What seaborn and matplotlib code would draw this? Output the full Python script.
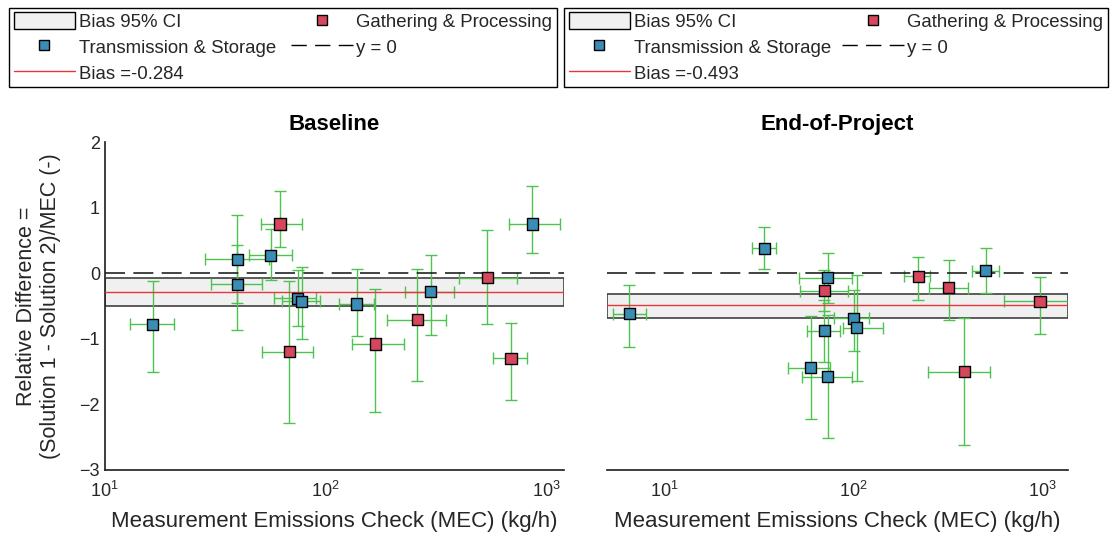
import numpy as np
import pandas as pd
import matplotlib
matplotlib.use("Agg")
import matplotlib.pyplot as plt
from matplotlib.lines import Line2D
from matplotlib.patches import Patch
from matplotlib.ticker import LogLocator, LogFormatterMathtext, NullLocator
import seaborn as sns

# ---------------- data ----------------
categories = ["Transmission & Storage", "Gathering & Processing"]

# Baseline panel
base_type = ["T", "T", "T", "G", "T", "T", "T", "T", "G", "G", "T", "G", "G", "T", "G"]
base_x = [16.5, 39.8, 39.8, 62.1, 56.4, 74.5, 77.8, 138, 167.5, 259, 298.5, 538, 689, 861, 68.4]
base_y = [-0.78, 0.21, -0.17, 0.75, 0.27, -0.38, -0.43, -0.47, -1.08, -0.71, -0.285, -0.07, -1.30, 0.75, -1.20]
base_ylo = [-1.50, -0.45, -0.87, 0.40, -0.11, -0.81, -1.00, -0.96, -2.11, -1.65, -0.94, -0.77, -1.93, 0.30, -2.28]
base_yhi = [-0.12, 0.88, 0.43, 1.26, 0.68, 0.05, 0.10, 0.07, -0.24, 0.07, 0.27, 0.66, -0.76, 1.33, -0.12]
base_xlo = [13.0, 28.4, 30.3, 50.8, 45.0, 58.4, 63.2, 114.5, 132, 189, 229, 401, 570, 677, 51.3]
base_xhi = [20.6, 55.6, 51.6, 77.8, 70.6, 90.4, 94.2, 164.5, 227, 349, 379, 731, 813, 1148, 87.3]
base_bias = -0.284
base_ci = [-0.50, -0.07]

# End-of-Project panel
eop_type = ["T", "T", "T", "G", "T", "T", "T", "T", "T", "G", "G", "T", "G", "G"]
eop_x = [6.53, 33.7, 72.9, 70, 100, 104, 70, 59.3, 72.9, 220, 319, 499, 966, 385]
eop_y = [-0.62, 0.38, -0.07, -0.27, -0.69, -0.83, -0.88, -1.44, -1.58, -0.05, -0.22, 0.04, -0.43, -1.50]
eop_ylo = [-1.12, 0.06, -0.45, -0.57, -1.18, -1.65, -1.35, -2.22, -2.52, -0.41, -0.72, -0.31, -0.92, -2.62]
eop_yhi = [-0.18, 0.71, 0.31, 0.05, -0.25, -0.03, -0.41, -0.66, -0.64, 0.25, 0.20, 0.38, -0.06, -0.69]
eop_xlo = [5.35, 29.0, 51.5, 52.1, 78.7, 87.9, 56.5, 44.9, 53.2, 185, 251, 424, 625, 246]
eop_xhi = [7.98, 38.9, 97.8, 93.8, 120.5, 143, 84.7, 75.0, 98.4, 253, 401, 586, 1400, 525]
eop_bias = -0.493
eop_ci = [-0.69, -0.32]

titles = ["Baseline", "End-of-Project"]
xlabel = "Measurement Emissions Check (MEC) (kg/h)"
ylabel = "Relative Difference =\n(Solution 1 - Solution 2)/MEC (-)"
yticks = [-3, -2, -1, 0, 1, 2]

# ---------------- style ----------------
sns.set_theme(style="white")
plt.rcParams["font.family"] = ["Liberation Sans", "DejaVu Sans"]
plt.rcParams["mathtext.default"] = "regular"
plt.rcParams["xtick.direction"] = "in"
plt.rcParams["ytick.direction"] = "in"

blue = "#3b8db5"
red = "#d6475e"
green = "#4ec24e"
txt = "#262626"
palette = {"Transmission & Storage": blue, "Gathering & Processing": red}
tmap = {"T": "Transmission & Storage", "G": "Gathering & Processing"}

fig = plt.figure(figsize=(11.12, 5.42), dpi=100)
ax1 = fig.add_axes([0.0942, 0.133, 0.4134, 0.605])
ax2 = fig.add_axes([0.5456, 0.133, 0.4150, 0.605])

panels = [
    (ax1, base_type, base_x, base_y, base_ylo, base_yhi, base_xlo, base_xhi, base_bias, base_ci, (10, 1202)),
    (ax2, eop_type, eop_x, eop_y, eop_ylo, eop_yhi, eop_xlo, eop_xhi, eop_bias, eop_ci, (4.97, 1361)),
]

for i, (ax, typ, x, y, ylo, yhi, xlo, xhi, bias, ci, xlim) in enumerate(panels):
    df = pd.DataFrame({"x": x, "y": y, "ylo": ylo, "yhi": yhi, "xlo": xlo, "xhi": xhi,
                       "cat": [tmap[t] for t in typ]})
    ax.set_xscale("log")
    ax.axhspan(ci[0], ci[1], facecolor="#f0f0f0", edgecolor="#404040", lw=1.2, zorder=1)
    ax.errorbar(df["x"], df["y"],
                yerr=[df["y"] - df["ylo"], df["yhi"] - df["y"]],
                xerr=[df["x"] - df["xlo"], df["xhi"] - df["x"]],
                fmt="none", ecolor=green, elinewidth=1.0, capsize=4, capthick=1.0, zorder=2)
    ax.axhline(0, color="#222222", ls=(0, (12, 5)), lw=1.2, zorder=3)
    ax.axhline(bias, color="#e8363c", lw=1.0, zorder=3)
    sns.scatterplot(data=df, x="x", y="y", hue="cat", palette=palette, marker="s", s=64,
                    edgecolor="black", linewidth=1.0, legend=False, ax=ax, zorder=4)
    ax.set_xlim(*xlim)
    ax.set_ylim(-3, 2)
    ax.xaxis.set_major_locator(LogLocator(base=10, numticks=10))
    ax.xaxis.set_major_formatter(LogFormatterMathtext())
    ax.xaxis.set_minor_locator(NullLocator())
    ax.set_title(titles[i], fontsize=16, fontweight="bold", pad=9, color="black")
    ax.set_xlabel(xlabel, fontsize=16, color=txt, labelpad=7)
    ax.tick_params(axis="both", labelsize=13, colors=txt, length=3, width=0.8)
    ax.tick_params(axis="x", pad=8)
    for s in ["top", "right"]:
        ax.spines[s].set_visible(False)
    ax.spines["bottom"].set_color(txt)
    ax.spines["left"].set_color(txt)
    if i == 0:
        ax.set_yticks(yticks)
        ax.set_ylabel(ylabel, fontsize=15.5, color=txt, labelpad=13)
    else:
        ax.set_ylabel("")
        ax.set_yticks([])
        ax.spines["left"].set_visible(False)

    handles = [
        Patch(facecolor="#f0f0f0", edgecolor="black", lw=1.0, label="Bias 95% CI"),
        Line2D([], [], ls="none", marker="s", ms=6.5, mfc=blue, mec="black", label=categories[0]),
        Line2D([], [], color="#e8363c", lw=1.0, label=f"Bias ={bias}"),
        Line2D([], [], ls="none", marker="s", ms=6.5, mfc=red, mec="black", label=categories[1]),
        Line2D([], [], color="black", ls=(0, (11, 6)), lw=1.0, label="y = 0"),
    ]
    bx = 0.0081 if i == 0 else 0.5072
    bw = 0.4928 if i == 0 else 0.4892
    leg = fig.legend(handles=handles, ncol=2, loc="lower left", mode="expand",
                     bbox_to_anchor=(bx, 0.839, bw, 0.148), fontsize=13.4,
                     frameon=True, fancybox=False, edgecolor="black", framealpha=1,
                     borderpad=0.25, labelspacing=0.38, handlelength=3.3, handleheight=1.0,
                     handletextpad=0.2, columnspacing=0.3, borderaxespad=0)
    leg.get_frame().set_linewidth(1.0)

fig.savefig("out.png", dpi=100)
